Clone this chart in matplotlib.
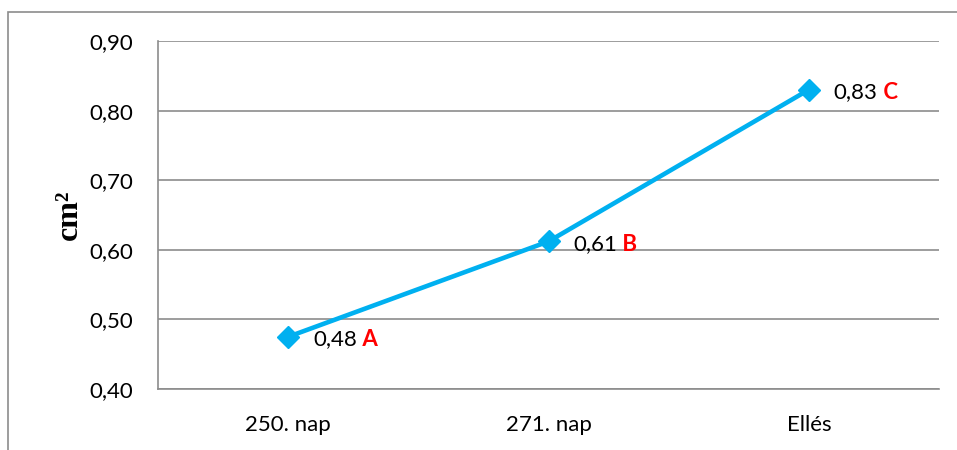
import matplotlib
matplotlib.use("Agg")
import matplotlib.pyplot as plt
from matplotlib.patches import Rectangle

# data
categories = ["250. nap", "271. nap", "Ellés"]
values = [0.475, 0.612, 0.83]
value_labels = ["0,48", "0,61", "0,83"]
group_letters = ["A", "B", "C"]
yticks = [0.40, 0.50, 0.60, 0.70, 0.80, 0.90]
ytick_labels = ["0,40", "0,50", "0,60", "0,70", "0,80", "0,90"]

plt.rcParams["font.family"] = ["Lato", "DejaVu Sans"]

fig = plt.figure(figsize=(9.57, 4.5), dpi=100)

# outer chart border (only left and top edges are visible)
fig.patches.append(Rectangle((8 / 957, -1), 3, 1 + (1 - 12 / 450), transform=fig.transFigure,
                             fill=False, edgecolor="#8c8c8c", linewidth=1.2))

ax = fig.add_axes([158 / 957, 1 - 389 / 450, (939 - 158) / 957, (389 - 41) / 450])

x = list(range(len(categories)))
ax.plot(x, values, color="#00B0F0", linewidth=3.3, marker="D", markersize=11, zorder=3)

for xi, v, lab, let in zip(x, values, value_labels, group_letters):
    t = ax.annotate(lab, xy=(xi, v), xytext=(18, -2), textcoords="offset points",
                    ha="left", va="center", fontsize=16, color="black")
    ax.annotate(" " + let, xy=(1, 0.5), xycoords=t, ha="left", va="center",
                fontsize=16, color="#FF0000", fontweight="bold")

ax.set_xlim(-0.5, len(categories) - 0.5)
ax.set_ylim(0.40, 0.90)
ax.set_yticks(yticks)
ax.set_yticklabels(ytick_labels)
ax.set_xticks(x)
ax.set_xticklabels(categories)
ax.tick_params(axis="both", length=0, labelsize=16)
ax.tick_params(axis="y", pad=18)
ax.tick_params(axis="x", pad=19)

ax.grid(axis="y", color="#8c8c8c", linewidth=1.2)
ax.set_axisbelow(True)
for side in ["top", "right"]:
    ax.spines[side].set_visible(False)
for side in ["left", "bottom"]:
    ax.spines[side].set_color("#8c8c8c")
    ax.spines[side].set_linewidth(1.2)

ax.set_ylabel("cm²", family=["Liberation Serif", "DejaVu Serif"], fontsize=23,
              fontweight="bold", labelpad=4)

fig.savefig("out.png", dpi=100)
